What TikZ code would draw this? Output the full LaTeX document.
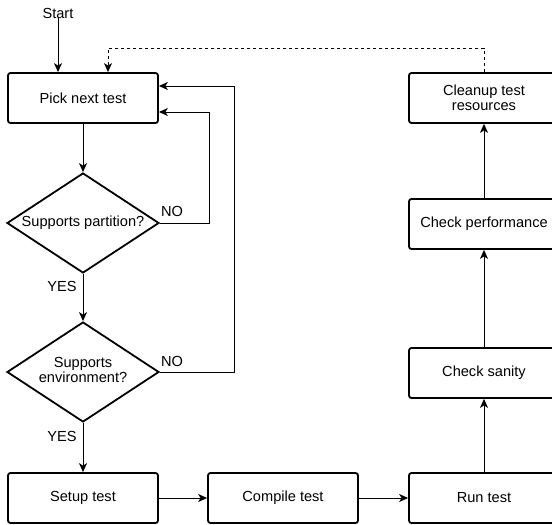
\documentclass[tikz,border=0pt]{standalone}
\usepackage{fontspec}
\setmainfont{Liberation Sans}
\usetikzlibrary{shapes.geometric,arrows.meta}
\begin{document}
\begin{tikzpicture}[x=1pt,y=-1pt,
  font=\fontsize{14.6}{17}\selectfont,
  box/.style={draw,line width=1.8pt,rounded corners=2.5pt,minimum width=150pt,minimum height=50pt,inner sep=2pt,align=center},
  decision/.style={draw,line width=1.8pt,diamond,minimum width=152pt,minimum height=100pt,inner sep=0pt},
  flow/.style={line width=1pt,-{Stealth[length=9pt,width=8pt,inset=2.5pt]}},
  lbl/.style={inner sep=0pt}]
\useasboundingbox (0,0) rectangle (552,525);
\clip (0,0) rectangle (552,525);

% left column
\node[lbl] (start) at (58,13) {Start};
\node[box] (pick) at (83,98) {Pick next test};
\node[decision] (d1) at (83,223) {\makebox[0pt]{Supports partition?}};
\node[decision] (d2) at (83,372) {\makebox[0pt]{\begin{tabular}{@{}c@{}}Supports\\[-2pt]environment?\end{tabular}}};

% bottom row
\node[box] (setup) at (83,498) {Setup test};
\node[box] (compile) at (283,498) {Compile test};
\node[box] (run) at (484,498) {Run test};

% right column
\node[box] (sanity) at (484,373) {Check sanity};
\node[box] (perf) at (484,224) {Check performance};
\node[box] (cleanup) at (484,98) {Cleanup test\\[-2pt]resources};

% branch labels
\node[lbl] (no1) at (172,211) {NO};
\node[lbl] (no2) at (172,361) {NO};
\node[lbl] (yes1) at (62,286) {YES};
\node[lbl] (yes2) at (62,436) {YES};

\coordinate (dtop) at (108,48);

% connectors
\draw[flow] (start.south) -- (start.south |- pick.north);
\draw[flow] (pick.south) -- (d1.north);
\draw[flow] (d1.south) -- (d2.north);
\draw[flow] (d2.south) -- (setup.north);
\draw[flow] (d1.east) -- ++(50,0) |- ([yshift=-14pt]pick.east);
\draw[flow] (d2.east) -- ++(75,0) |- ([yshift=12pt]pick.east);
\draw[flow] (setup.east) -- (compile.west);
\draw[flow] (compile.east) -- (run.west);
\draw[flow] (run.north) -- (sanity.south);
\draw[flow] (sanity.north) -- (perf.south);
\draw[flow] (perf.north) -- (cleanup.south);
\draw[flow,dashed] (cleanup.north) |- (dtop) -- (dtop |- pick.north);
\end{tikzpicture}
\end{document}
